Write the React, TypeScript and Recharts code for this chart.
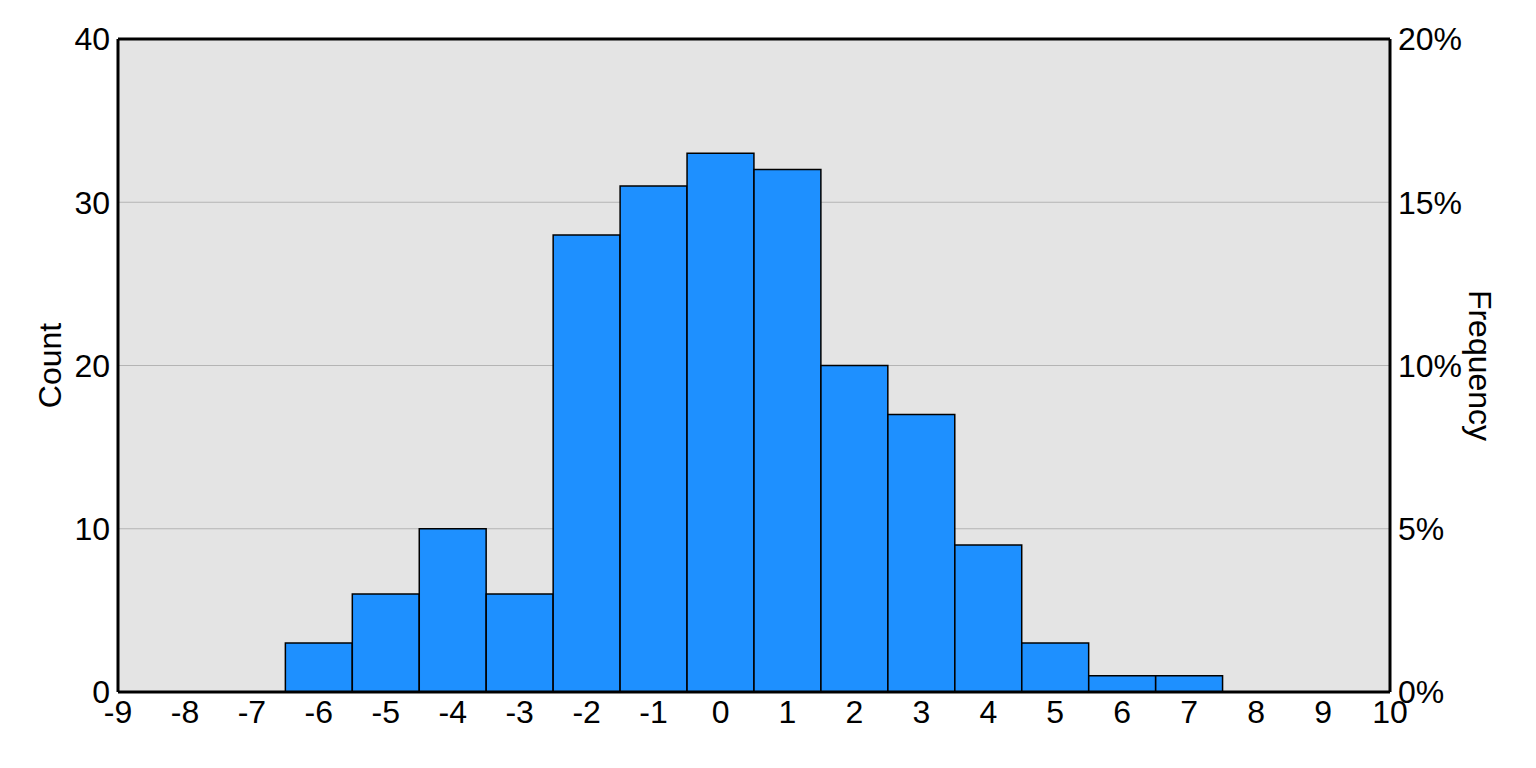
import React from "react"
import {
  ComposedChart,
  Bar,
  Line,
  XAxis,
  YAxis,
  CartesianGrid,
  ReferenceLine,
} from "recharts"

// histogram bins (centre of each bin) and counts
const bins = [-6, -5, -4, -3, -2, -1, 0, 1, 2, 3, 4, 5, 6, 7]
const counts = [3, 6, 10, 6, 28, 31, 33, 32, 20, 17, 9, 3, 1, 1]

const xTicks = [-9, -8, -7, -6, -5, -4, -3, -2, -1, 0, 1, 2, 3, 4, 5, 6, 7, 8, 9, 10]
const countTicks = [0, 10, 20, 30, 40]
const freqTicks = [0, 0.05, 0.1, 0.15, 0.2]

const total = counts.reduce((a, b) => a + b, 0)
const data = bins.map((bin, i) => ({ bin, count: counts[i], freq: counts[i] / total }))

const W = 1536
const H = 768
const MARGIN = { top: 39, right: 0, bottom: 0, left: 0 }
const LEFT_W = 118
const RIGHT_W = 146
const BOTTOM_H = 76
const FONT = '"Liberation Sans", Arial, sans-serif'

const plotW = W - LEFT_W - RIGHT_W
const barW = (plotW / (xTicks[xTicks.length - 1] - xTicks[0])) * 0.999

const tickStyle = { fontSize: 32, fill: "#000", fontFamily: FONT }
const frame = { stroke: "#000", strokeWidth: 3 }

function AxisTitle(props: any) {
  const { viewBox, text, side } = props
  if (!viewBox) return null
  const cx = side === "left" ? viewBox.x + 50 : viewBox.x + 90
  const cy = viewBox.y + viewBox.height / 2
  const angle = side === "left" ? -90 : 90
  return (
    <text
      x={cx}
      y={cy}
      transform={`rotate(${angle}, ${cx}, ${cy})`}
      textAnchor="middle"
      dominantBaseline="central"
      fontSize={32}
      fontFamily={FONT}
      fill="#000"
    >
      {text}
    </text>
  )
}

export default function App() {
  return (
    <div style={{ position: "absolute", left: 0, top: 0, width: W, height: H, background: "#fff" }}>
      <ComposedChart
        width={W}
        height={H}
        data={data}
        margin={MARGIN}
        barCategoryGap={0}
      >
        <CartesianGrid
          vertical={false}
          stroke="#b4b4b4"
          strokeWidth={1}
          fill="#e4e4e4"
          yAxisId="left"
          xAxisId="bottom"
        />

        <Bar
          dataKey="count"
          yAxisId="left"
          xAxisId="bottom"
          fill="#1e90ff"
          stroke="#000"
          strokeWidth={1.5}
          barSize={barW}
          isAnimationActive={false}
        />
        {/* invisible series so the frequency axis gets its ticks */}
        <Line
          dataKey="freq"
          yAxisId="right"
          xAxisId="bottom"
          stroke="none"
          dot={false}
          activeDot={false}
          isAnimationActive={false}
        />

        {/* top edge of the frame */}
        <ReferenceLine
          y={countTicks[countTicks.length - 1]}
          yAxisId="left"
          xAxisId="bottom"
          stroke="#000"
          strokeWidth={3}
        />

        <XAxis
          xAxisId="bottom"
          dataKey="bin"
          type="number"
          domain={[xTicks[0], xTicks[xTicks.length - 1]]}
          ticks={xTicks}
          interval={0}
          allowDataOverflow
          height={BOTTOM_H}
          tickLine={false}
          tickSize={0}
          tickMargin={8}
          tick={tickStyle}
          axisLine={frame}
        />
        <YAxis
          yAxisId="left"
          type="number"
          domain={[countTicks[0], countTicks[countTicks.length - 1]]}
          ticks={countTicks}
          interval={0}
          width={LEFT_W}
          tickLine={false}
          tickSize={0}
          tickMargin={8}
          tick={tickStyle}
          axisLine={frame}
          label={<AxisTitle text="Count" side="left" />}
        />
        <YAxis
          yAxisId="right"
          orientation="right"
          type="number"
          domain={[0, countTicks[countTicks.length - 1] / total]}
          ticks={freqTicks}
          interval={0}
          allowDataOverflow
          width={RIGHT_W}
          tickLine={false}
          tickSize={0}
          tickMargin={8}
          tick={tickStyle}
          tickFormatter={(v: number) => `${Math.round(v * 100)}%`}
          axisLine={frame}
          label={<AxisTitle text="Frequency" side="right" />}
        />
      </ComposedChart>
    </div>
  )
}
